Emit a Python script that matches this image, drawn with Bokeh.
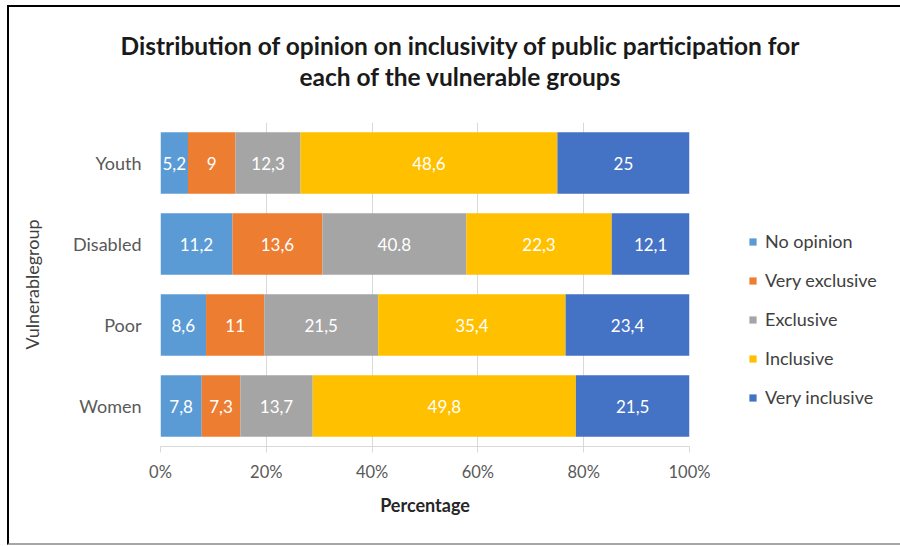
from bokeh.plotting import figure
from bokeh.models import ColumnDataSource, FactorRange, Legend, LegendItem, Title, PrintfTickFormatter
from bokeh.embed import file_html
from bokeh.resources import INLINE
from bokeh.core.properties import value

# ---- data ----
categories = ["Women", "Poor", "Disabled", "Youth"]          # bottom -> top
series = ["No opinion", "Very exclusive", "Exclusive", "Inclusive", "Very inclusive"]
colors = ["#5B9BD5", "#ED7D31", "#A5A5A5", "#FFC000", "#4472C4"]

# bar shares as drawn (percent of each row)
no_opinion = [7.8, 8.6, 13.6, 5.2]
very_exclusive = [7.3, 11.0, 17.0, 9.0]
exclusive = [13.7, 21.5, 27.2, 12.3]
inclusive = [49.8, 35.4, 27.5, 48.6]
very_inclusive = [21.5, 23.4, 14.7, 25.0]

# data labels as printed on the bars
labels_no_opinion = ["7,8", "8,6", "11,2", "5,2"]
labels_very_exclusive = ["7,3", "11", "13,6", "9"]
labels_exclusive = ["13,7", "21,5", "40.8", "12,3"]
labels_inclusive = ["49,8", "35,4", "22,3", "48,6"]
labels_very_inclusive = ["21,5", "23,4", "12,1", "25"]

x_ticks = [0, 20, 40, 60, 80, 100]

title_line1 = "Distribution of opinion on inclusivity of public participation for"
title_line2 = "each of the vulnerable groups"

FONT = "Lato"

values = [no_opinion, very_exclusive, exclusive, inclusive, very_inclusive]
labels = [labels_no_opinion, labels_very_exclusive, labels_exclusive,
          labels_inclusive, labels_very_inclusive]

# 100% stacking
totals = [sum(v[i] for v in values) for i in range(len(categories))]
data = {"cat": categories}
for name, v in zip(series, values):
    data[name] = [v[i] / totals[i] * 100 for i in range(len(categories))]
src = ColumnDataSource(data)

p = figure(
    y_range=FactorRange(*categories, range_padding=0),
    x_range=(0, 100),
    frame_width=529, frame_height=324, title=None,
    output_backend="svg", toolbar_location=None,
    min_border_left=151, min_border_right=211,
    min_border_top=115, min_border_bottom=97,
)
p.styles = {"box-sizing": "content-box",
            "margin-left": "7px", "margin-top": "5px",
            "border-top": "2px solid #000000",
            "border-left": "2px solid #000000",
            "border-bottom": "2px solid #A6A6A6"}

renderers = p.hbar_stack(series, y="cat", height=0.76, color=colors,
                         line_color=None, source=src)

# data labels
left = [0.0] * len(categories)
for name, lab in zip(series, labels):
    w = data[name]
    xc = [left[i] + w[i] / 2 for i in range(len(categories))]
    p.text(x=xc, y=categories, text=lab, text_color="white",
           text_font=value(FONT), text_font_size="17px",
           text_align="center", text_baseline="middle")
    left = [left[i] + w[i] for i in range(len(categories))]

legend = Legend(items=[LegendItem(label=s, renderers=[r]) for s, r in zip(series, renderers)],
                location=(59, 38))
legend.border_line_color = None
legend.background_fill_alpha = 0
legend.padding = 0
legend.margin = 0
legend.glyph_width = 9
legend.glyph_height = 9
legend.label_height = 20
legend.spacing = 17
legend.label_standoff = 8
legend.label_text_font = FONT
legend.label_text_font_size = "18px"
legend.label_text_color = "#404040"
p.add_layout(legend, "right")

# axes
p.xaxis.ticker = x_ticks
p.xaxis.formatter = PrintfTickFormatter(format="%d%%")
p.xaxis.axis_line_color = "#D9D9D9"
p.xaxis.major_tick_line_color = "#D9D9D9"
p.xaxis.major_tick_out = 6
p.xaxis.major_tick_in = 0
p.xaxis.minor_tick_line_color = None
p.xaxis.major_label_text_font = FONT
p.xaxis.major_label_text_font_size = "16.5px"
p.xaxis.major_label_text_color = "#595959"
p.xaxis.major_label_standoff = 9
p.xaxis.axis_label = "Percentage"
p.xaxis.axis_label_text_font = FONT
p.xaxis.axis_label_text_font_size = "18px"
p.xaxis.axis_label_text_font_style = "bold"
p.xaxis.axis_label_text_color = "#262626"
p.xaxis.axis_label_standoff = 9

p.yaxis.axis_line_color = None
p.yaxis.major_tick_line_color = None
p.yaxis.minor_tick_line_color = None
p.yaxis.major_label_text_font = FONT
p.yaxis.major_label_text_font_size = "18px"
p.yaxis.major_label_text_color = "#595959"
p.yaxis.major_label_standoff = 13
p.yaxis.axis_label = "Vulnerablegroup"
p.yaxis.axis_label_text_font = FONT
p.yaxis.axis_label_text_font_size = "18px"
p.yaxis.axis_label_text_font_style = "normal"
p.yaxis.axis_label_text_color = "#404040"
p.yaxis.axis_label_standoff = 27

p.xgrid.grid_line_color = "#D9D9D9"
p.ygrid.grid_line_color = None
p.outline_line_color = None

# title: panels stack outward from the frame
p.add_layout(Title(text=" ", text_font=FONT, text_font_size="20px", standoff=6), "above")
p.add_layout(Title(text=title_line2, align="left", offset=139, standoff=0,
                   text_font=FONT, text_font_size="24.5px", text_font_style="bold",
                   text_color="#1A1A1A"), "above")
p.add_layout(Title(text=title_line1, align="left", offset=-40, standoff=0,
                   text_font=FONT, text_font_size="24.5px", text_font_style="bold",
                   text_color="#1A1A1A"), "above")

open("out.html", "w").write(file_html(p, INLINE))
